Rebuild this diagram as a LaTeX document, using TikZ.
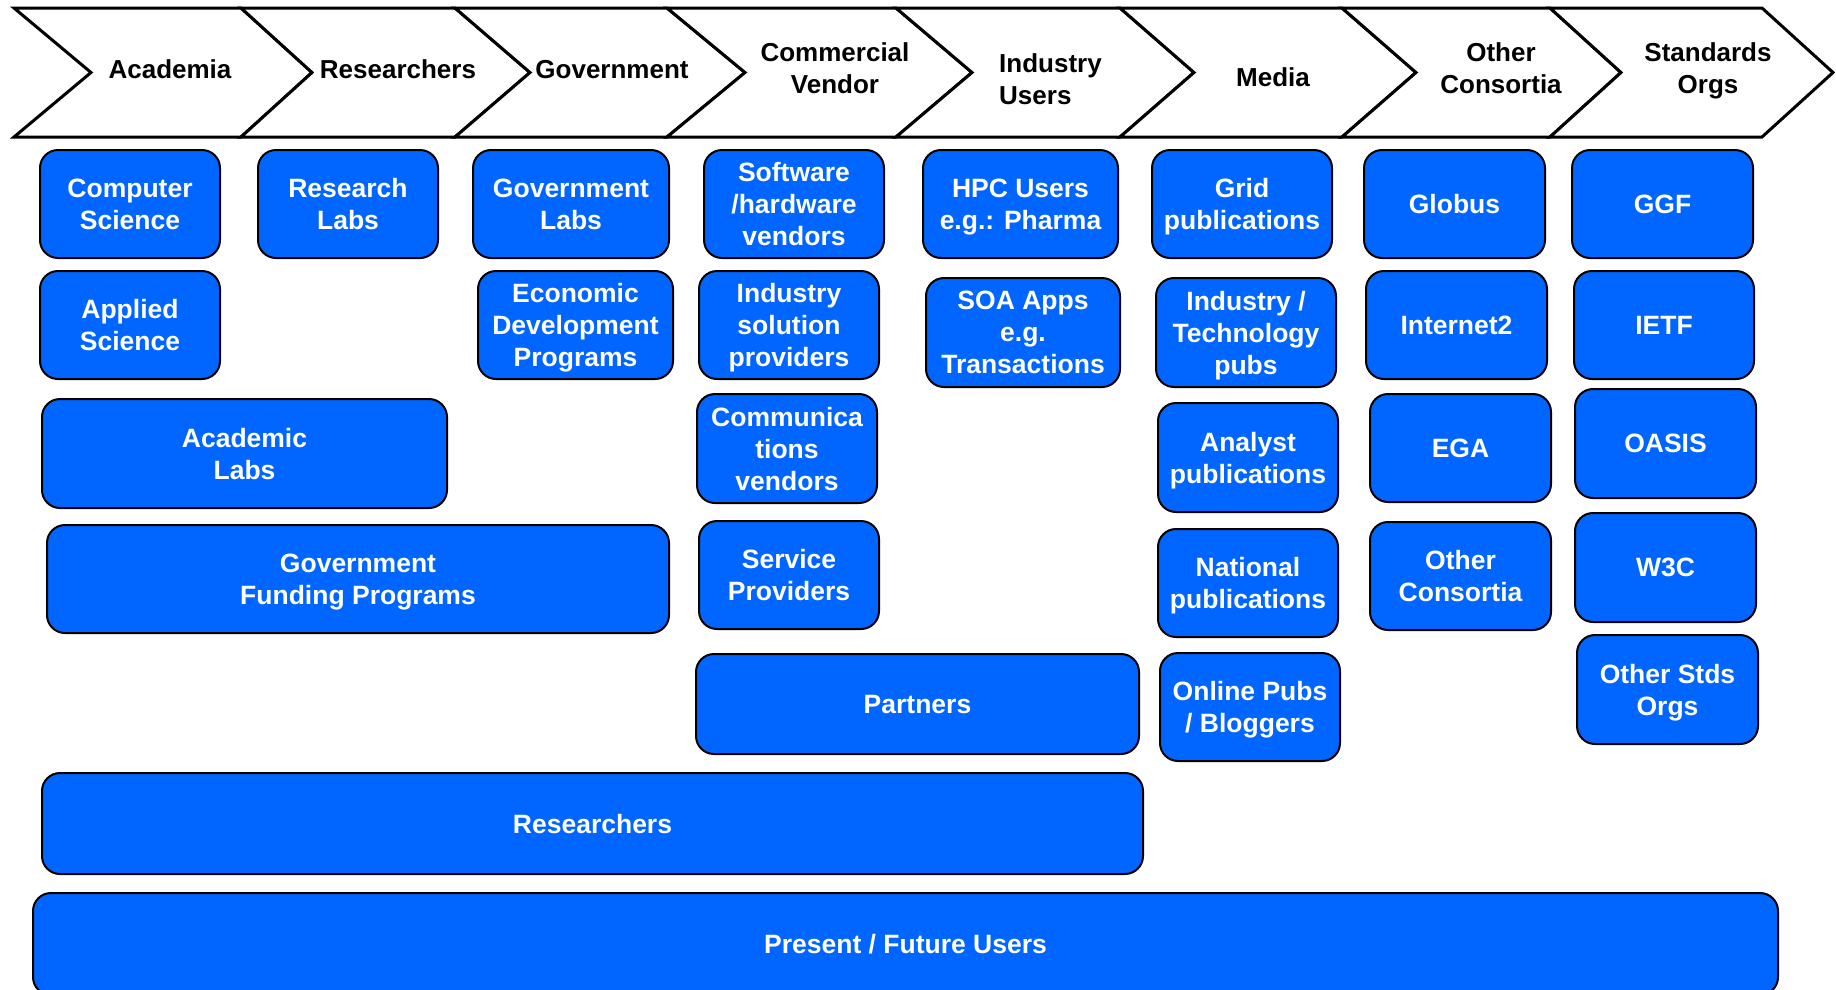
\documentclass[tikz,border=0pt]{standalone}
\usepackage{fontspec}
\setmainfont{Liberation Sans}
\usepackage{xcolor}
\usepackage{tikz}
\usetikzlibrary{positioning}

\definecolor{boxblue}{RGB}{0,102,255}

\begin{document}
\begin{tikzpicture}[x=1pt, y=-1pt,
  chev/.style={draw=black, line width=3pt, fill=white, line join=miter},
  hlab/.style={font=\fontsize{26}{32}\selectfont\bfseries, align=center, inner sep=0pt, text depth=0pt},
  blk/.style={draw=black, line width=2pt, fill=boxblue, rounded corners=18pt, text=white,
    font=\fontsize{26.5}{32}\selectfont\bfseries, align=center, inner sep=2pt, text depth=0pt}]

  \clip (0,0) rectangle (1836,989);

  % ----------------------
  % Frecce di intestazione
  % ----------------------
  \foreach \la/\lb/\ra/\rb in {14/91/241/312, 241/312/455/530, 455/530/667/745, 667/745/896/972,
      896/972/1120/1194, 1120/1194/1342/1416, 1342/1416/1550/1621, 1550/1621/1762/1833}{
    \draw[chev] (\la,8) -- (\ra,8) -- (\rb,72.5) -- (\ra,137) -- (\la,137) -- (\lb,72.5) -- cycle;
  }

  \foreach \nm/\x/\y/\txt in {hAcad/170/69/{Academia}, hRes/398/69/{Researchers},
      hGov/612/69/{Government}, hComm/835/68/{Commercial\\Vendor}, hMedia/1273/77.5/{Media},
      hCons/1501/68/{Other\\Consortia}, hStds/1708/68/{Standards\\Orgs}}{
    \node[hlab] (\nm) at (\x,\y) {\txt};
  }
  \node[hlab, align=left, anchor=west] (hInd) at (999,79) {Industry\\Users};

  % ----------------------
  % Blocchi (x1/y1/x2/y2)
  % ----------------------
  \foreach \nm/\xa/\ya/\xb/\yb/\txt in {
      compSci/40/150/220/258/{Computer\\Science},
      resLabs/258/150/438/258/{Research\\Labs},
      govLabs/473/150/669/258/{Government\\Labs},
      swVend/704/150/884/258/{Software\\/hardware\\vendors},
      hpcUsers/923/150/1118/258/{HPC Users\\e.g.: Pharma},
      gridPub/1152/150/1332/258/{Grid\\publications},
      globus/1364/150/1545/258/{Globus},
      ggf/1572/150/1753/258/{GGF},
      applSci/40/271/220/379/{Applied\\Science},
      econDev/478/271/673/379/{Economic\\Development\\Programs},
      indSol/699/271/879/379/{Industry\\solution\\providers},
      soaApps/926/278/1120/387/{SOA Apps\\e.g.\\Transactions},
      indTech/1156/278/1336/387/{Industry /\\Technology\\pubs},
      inet2/1366/271/1547/379/{Internet2},
      ietf/1574/271/1754/379/{IETF},
      acadLabs/42/399/447/508/{Academic\\Labs},
      commVend/697/394/877/503/{Communica\\tions\\vendors},
      analyst/1158/403/1338/512/{Analyst\\publications},
      ega/1370/394/1551/502/{EGA},
      oasis/1575/389/1756/498/{OASIS},
      govFund/47/525/669/633/{Government\\Funding Programs},
      servProv/699/521/879/629/{Service\\Providers},
      natPub/1158/529/1338/637/{National\\publications},
      othCons/1370/522/1551/630/{Other\\Consortia},
      wthreec/1575/513/1756/622/{W3C},
      partners/696/654/1139/754/{Partners},
      onlinePub/1160/653/1340/761/{Online Pubs\\/ Bloggers},
      othStds/1577/635/1758/744/{Other Stds\\Orgs},
      researchers/42/773/1143/874/{Researchers},
      users/33/893/1778/995/{Present / Future Users}}{
    \node[blk, minimum width=\xb-\xa, minimum height=\yb-\ya] (\nm)
      at ({(\xa+\xb)/2},{(\ya+\yb)/2}) {\txt};
  }

\end{tikzpicture}
\end{document}
